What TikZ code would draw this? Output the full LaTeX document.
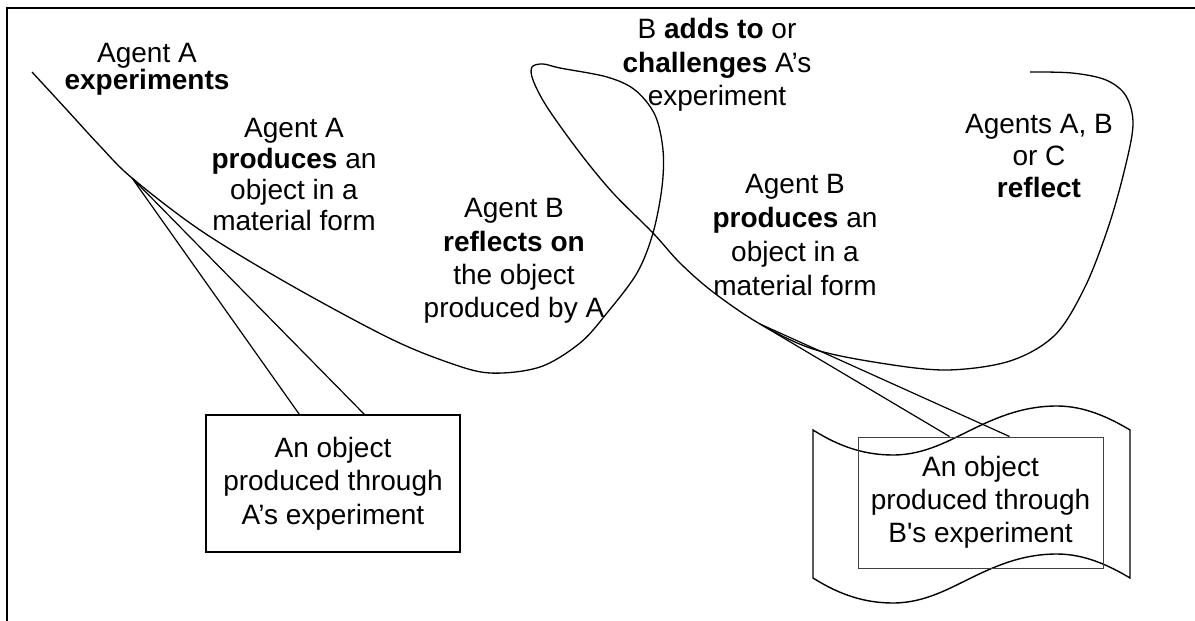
\documentclass[tikz,border=0pt]{standalone}
\usepackage{fontspec}
\setmainfont{Liberation Sans}
\newfontfamily\plainquote{Liberation Sans}[Ligatures=TeXOff]
\usetikzlibrary{calc}
\begin{document}
\begin{tikzpicture}[x=1pt,y=-1pt,
  curve/.style={line width=1.3pt, line join=round},
  tail/.style={line width=1.2pt},
  frameline/.style={line width=2pt},
  label/.style={align=center, inner sep=0pt},
  objbox/.style={draw, line width=1.5pt, align=center, inner sep=0pt,
    font=\fontsize{28}{33.5}\selectfont},
  innerbox/.style={draw=black!75, line width=1pt, align=center, inner sep=0pt,
    font=\fontsize{28}{33}\selectfont}]
\useasboundingbox (0,0) rectangle (1195,621);

% page frame (top and left edges)
\draw[frameline] (7,621) -- (7,8) -- (1195,8);

% callout tips
\coordinate (tipA) at (132,178);
\coordinate (tipB) at (760,324);

% the continuous freehand curve
\draw[curve] plot[smooth, tension=0.55] coordinates {
  (32,72) (67,110) (100,146) (tipA) (200,230) (287,283) (387,337) (447,362)
  (490,373) (540,367) (580,343) (607,313) (637,273) (653,233) (662,187)
  (663,150) (655,115) (635,90) (607,77) (560,68) (543,64) (532,67) (533,80)
  (547,107) (580,153) (613,193) (653,233) (680,263) (713,292) (tipB)
  (813,349) (880,363) (947,370) (1010,361) (1055,335) (1085,287) (1108,228)
  (1124,172) (1133,125) (1126,96) (1106,80) (1072,73) (1030,72)};

% object produced through A's experiment
\node[objbox, minimum width=254pt, minimum height=137pt] (boxA) at (333,483.5)
  {An object\\produced through\\A’s experiment};
\draw[tail] ($(boxA.north west)+(94,0)$) -- (tipA) -- ($(boxA.north west)+(159,0)$);

% wavy sheet behind B's object
\draw[line width=1.4pt]
  (813,430) .. controls (840,447) and (865,455) .. (893,455)
  .. controls (925,455) and (950,440) .. (975,428)
  .. controls (1000,416) and (1025,406) .. (1057,406)
  .. controls (1085,406) and (1110,418) .. (1130,430)
  -- (1130,578)
  .. controls (1110,566) and (1085,554) .. (1057,554)
  .. controls (1025,554) and (1000,564) .. (975,576)
  .. controls (950,588) and (925,603) .. (893,603)
  .. controls (865,603) and (840,595) .. (813,578) -- cycle;

% object produced through B's experiment
\node[innerbox, minimum width=245pt, minimum height=131pt] (boxB) at (980.5,502.5)
  {An object\\produced through\\B{\plainquote'}s experiment};
\draw[tail] ($(boxB.north west)+(92,0)$) -- (tipB) -- ($(boxB.north west)+(152,0)$);

% labels
\node[label, font=\fontsize{28}{27}\selectfont] (expA) at (147,69)
  {Agent A\\\textbf{experiments}};
\node[label, font=\fontsize{28}{31}\selectfont] (prodA) at (294,175)
  {Agent A\\\textbf{produces} an\\object in a\\material form};
\node[label, font=\fontsize{28}{33.5}\selectfont] (chalB) at (717,65)
  {B \textbf{adds to} or\\\textbf{challenges} A’s\\experiment};
\node[label, font=\fontsize{28}{33.3}\selectfont] (reflB) at (514,261)
  {Agent B\\\textbf{reflects on}\\the object\\produced by A};
\node[label, font=\fontsize{28}{34}\selectfont] (prodB) at (795,235)
  {Agent B\\\textbf{produces} an\\object in a\\material form};
\node[label, font=\fontsize{28}{32}\selectfont] (reflABC) at (1039,156)
  {Agents A, B\\or C\\\textbf{reflect}};
\end{tikzpicture}
\end{document}
